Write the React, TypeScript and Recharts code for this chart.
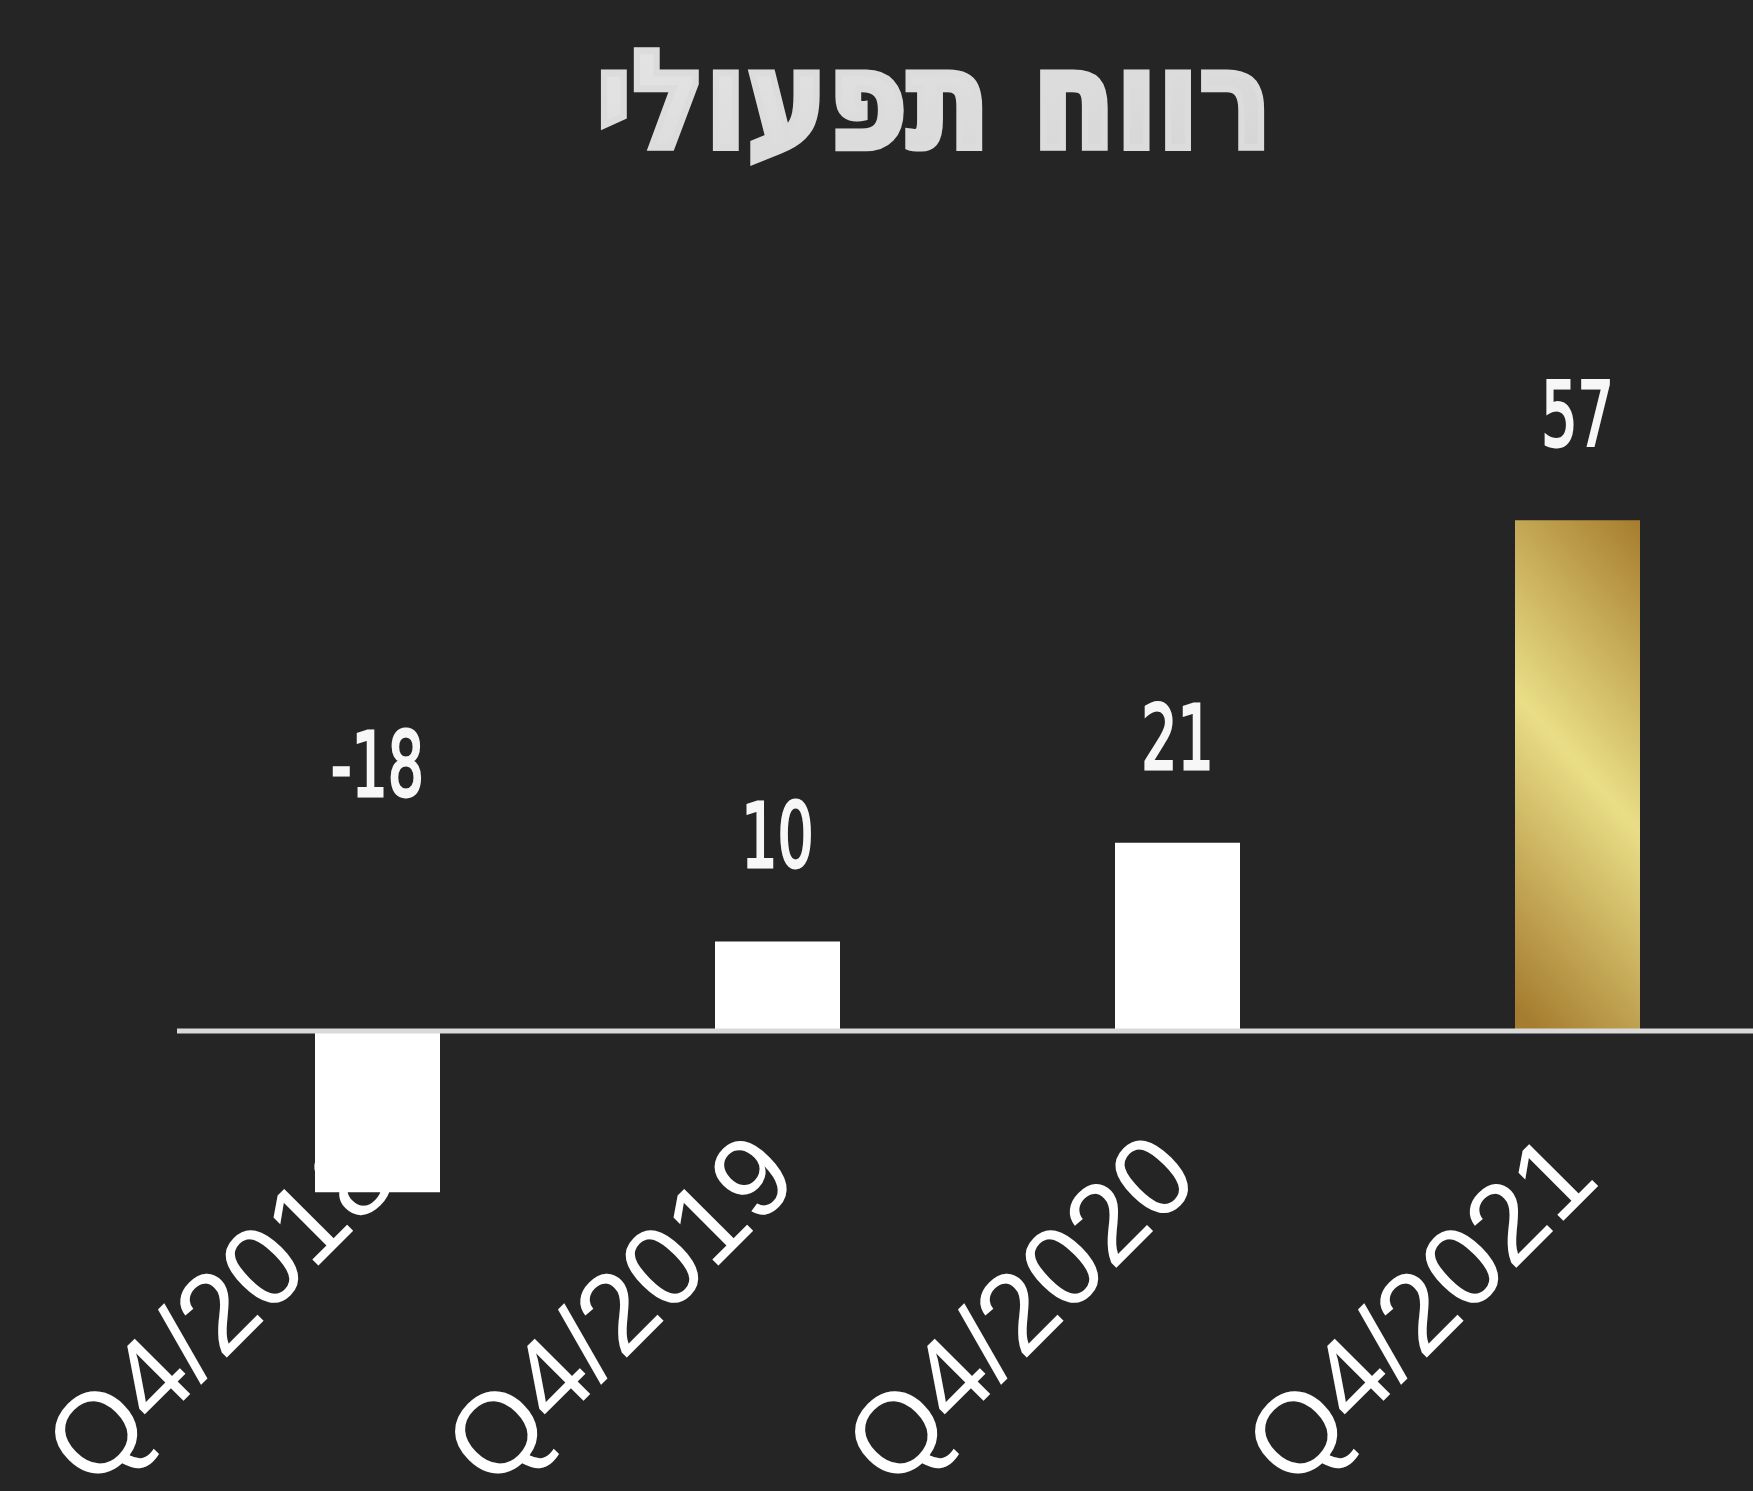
import { Bar, BarChart, Cell, LabelList, ReferenceLine, XAxis, YAxis } from "recharts";

const quarters = ["Q4/2018", "Q4/2019", "Q4/2020", "Q4/2021"];
const profit = [-18, 10, 21, 57];
const barColors = ["#ffffff", "#ffffff", "#ffffff", "url(#goldFill)"];

const title = "רווח תפעולי";

const data = quarters.map((q, i) => ({ quarter: q, value: profit[i] }));

function QuarterTick(props: any) {
  const { x, y, payload } = props;
  const ax = x + 25;
  const ay = y - 28;
  return (
    <text
      x={ax}
      y={ay}
      transform={`rotate(-45, ${ax}, ${ay})`}
      textAnchor="end"
      fontFamily="'Liberation Sans', Arial, sans-serif"
      fontSize={114}
      fill="#ffffff"
    >
      {payload.value}
    </text>
  );
}

function ValueLabel(props: any) {
  const { x, y, width, height, value } = props;
  const zeroY = y + height;
  const top = zeroY - Math.abs(height);
  const cx = x + width / 2;
  return (
    <text
      transform={`translate(${cx}, ${top - 74}) scale(0.64, 1)`}
      textAnchor="middle"
      fontFamily="'DejaVu Sans', sans-serif"
      fontSize={89}
      fill="#f7f7f7"
      stroke="#f7f7f7"
      strokeWidth={3}
    >
      {value}
    </text>
  );
}

export default function App() {
  return (
    <div style={{ position: "absolute", left: 0, top: 0, width: 1753, height: 1491, background: "#252525", overflow: "hidden" }}>
      <svg width={1753} height={200} style={{ position: "absolute", left: 0, top: 0 }}>
        <defs>
          <linearGradient id="titleFill" x1="0" y1="0" x2="1" y2="1">
            <stop offset="0" stopColor="#e6e6e6" />
            <stop offset="1" stopColor="#d4d4d4" />
          </linearGradient>
        </defs>
        <text
          x={934}
          y={147}
          textAnchor="middle"
          fontFamily="'DejaVu Sans', sans-serif"
          fontWeight={700}
          fontSize={136}
          textLength={676}
          lengthAdjust="spacingAndGlyphs"
          fill="url(#titleFill)"
          stroke="#dcdcdc"
          strokeWidth={7}
          strokeLinejoin="miter"
        >
          {title}
        </text>
      </svg>
      <BarChart
        width={1753}
        height={1491}
        data={data}
        margin={{ top: 493.4, right: -24, bottom: 250.8, left: 177 }}
        style={{ position: "absolute", left: 0, top: 0 }}
      >
        <defs>
          <linearGradient id="goldFill" x1="0.654" y1="-0.095" x2="0.346" y2="1.045">
            <stop offset="0" stopColor="#a67c2e" />
            <stop offset="0.5" stopColor="#e9de87" />
            <stop offset="1" stopColor="#a67d30" />
          </linearGradient>
        </defs>
        <XAxis
          dataKey="quarter"
          axisLine={false}
          tickLine={false}
          tickSize={0}
          tickMargin={0}
          height={30}
          interval={0}
          tick={<QuarterTick />}
        />
        <YAxis hide domain={[-20, 60]} />
        <Bar dataKey="value" barSize={125} isAnimationActive={false}>
          {data.map((d, i) => (
            <Cell key={d.quarter} fill={barColors[i]} />
          ))}
          <LabelList dataKey="value" content={<ValueLabel />} />
        </Bar>
        <ReferenceLine y={0} stroke="#d9d9d9" strokeWidth={5} />
      </BarChart>
    </div>
  );
}
